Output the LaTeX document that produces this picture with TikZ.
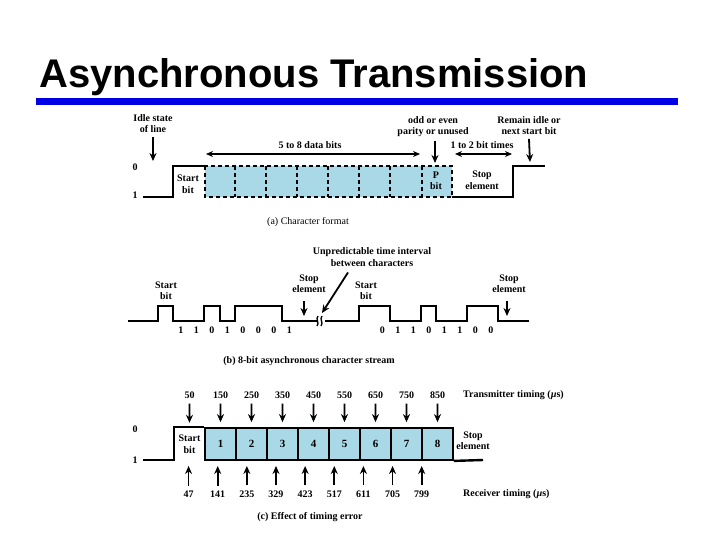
\documentclass[tikz,border=0pt]{standalone}
\usepackage{fontspec}
\setmainfont{Liberation Serif}
\newfontfamily\headfont{Liberation Sans}
\usetikzlibrary{
	arrows.meta,
	calc
}

\definecolor{bitblue}{HTML}{A9D8E6}
\definecolor{barblue}{HTML}{0000E6}

\tikzset{
	lbl/.style={font=\bfseries\fontsize{10}{11.5}\selectfont, align=center, inner sep=0pt},
	capt/.style={font=\fontsize{10}{11.5}\selectfont, align=center, inner sep=0pt},
	sig/.style={line width=2.4pt},
	thinsig/.style={line width=1.8pt},
	dbox/.style={line width=2pt, dash pattern=on 4pt off 3pt},
	bitbox/.style={draw, fill=bitblue, line width=1.8pt, minimum width=31pt, minimum height=32pt, inner sep=0pt, font=\bfseries\fontsize{11}{12}\selectfont},
	pointer/.style={-{Stealth[length=8pt,width=7pt]}, line width=1.8pt},
	span/.style={{Stealth[length=7pt,width=6pt]}-{Stealth[length=7pt,width=6pt]}, line width=1.2pt}
}

\begin{document}
\begin{tikzpicture}[x=1pt, y=-1pt]
	\useasboundingbox (0,0) rectangle (720,540);
	
	% title
	\fill[barblue] (36,98) rectangle (678,105);
	\node[anchor=base west, inner sep=0pt, font=\headfont\bfseries\fontsize{40}{42}\selectfont] (title) at (39,88) {Asynchronous Transmission};
	
	% (a) character format
	\node[lbl] (lvl0a) at (135,167) {0};
	\node[lbl] (lvl1a) at (135,195) {1};
	\fill[bitblue] (205,166) rectangle (452,197);
	\draw[dbox] (205,166) rectangle (452,197);
	\foreach \x in {235,266,297,328,359,390,422}
		\draw[dbox] (\x,166) -- (\x,197);
	\draw[sig] (143,197) -- (173,197) |- (205,166);
	\draw[sig] (452,197) -- (513,197) |- (545,166);
	
	\node[lbl] (starta) at (188,184) {Start\\bit};
	\node[lbl] (pbit) at (436,181) {P\\bit};
	\node[lbl] (stopa) at (482,180) {Stop\\element};
	
	\node[lbl] (idle) at (153,123.5) {Idle state\\of line};
	\coordinate (idlept) at (153,161);
	\draw[pointer] ([yshift=-4pt]idle.south) -- (idlept);
	
	\node[lbl] (databits) at (310,145) {5 to 8 data bits};
	\coordinate (datal) at (206,154);
	\coordinate (datar) at (420,154);
	\draw[span] (datal) -- (datar);
	
	\node[lbl] (parity) at (433,126.5) {odd or even\\parity or unused};
	\coordinate (paritypt) at (435,163);
	\draw[pointer] ([xshift=2pt,yshift=-4pt]parity.south) -- (paritypt);
	
	\node[lbl] (bittimes) at (482,145) {1 to 2 bit times};
	\coordinate (stopl) at (455,154);
	\coordinate (stopr) at (512,154);
	\draw[span] (stopl) -- (stopr);
	
	\node[lbl] (remain) at (529,125.5) {Remain idle or\\next start bit};
	\coordinate (remainpt) at (530,162);
	\draw[pointer] ([yshift=-4pt]remain.south) -- (remainpt);
	
	\node[capt] (capa) at (308,222) {(a) Character format};
	
	% (b) character stream
	\draw[thinsig] (128,321) -- (158,321) |- (173,306) |- (204,321) |- (220,306) |- (235,321) |- (282,306) |- (317,321);
	\draw[thinsig] (325,321) -- (359,321) |- (390,306) |- (421,321) |- (436,306) |- (467,321) |- (498,306) |- (529,321);
	\draw[line width=1.3pt] (318,316) .. controls (315,319) and (320,323) .. (317,326);
	\draw[line width=1.3pt] (322,316) .. controls (319,319) and (324,323) .. (321,326);
	
	\foreach \b [count=\i] in {1,1,0,1,0,0,0,1}
		\node[lbl] (bitA\i) at ({173+15.5*(\i-0.5)},330) {\b};
	\foreach \b [count=\i] in {0,1,1,0,1,1,0,0}
		\node[lbl] (bitB\i) at ({374.5+15.5*(\i-0.5)},330) {\b};
	
	\node[lbl] (startb1) at (166,290.5) {Start\\bit};
	\node[lbl] (startb2) at (366,290.5) {Start\\bit};
	
	\node[lbl] (stopb1) at (309,283.5) {Stop\\element};
	\coordinate (stopb1pt) at (304,316);
	\draw[pointer] ([xshift=-5pt,yshift=-8pt]stopb1.south) -- (stopb1pt);
	\node[lbl] (stopb2) at (509,283.5) {Stop\\element};
	\coordinate (stopb2pt) at (507,316);
	\draw[pointer] ([xshift=-2pt,yshift=-8pt]stopb2.south) -- (stopb2pt);
	
	\node[lbl] (gap) at (372,257) {Unpredictable time interval\\between characters};
	\coordinate (gappt) at (322,313);
	\draw[pointer] ([xshift=-24pt,yshift=-6pt]gap.south) -- (gappt);
	
	\node[lbl] (capb) at (309,361) {(b) 8-bit asynchronous character stream};
	
	% (c) timing error
	\node[lbl] (lvl0c) at (135,429) {0};
	\node[lbl] (lvl1c) at (135,460) {1};
	\node[lbl, minimum width=31pt, minimum height=32pt] (b0) at (189.5,444) {Start\\bit};
	\foreach \i in {1,...,8}
		\node[bitbox] (b\i) at ({205+31*(\i-0.5)},444) {\i};
	\draw[sig] (143,460) -- (174,460) |- (b1.north west);
	\draw[sig] (b8.south east) -- (483,460);
	\node[lbl] (stopc) at (473,440.5) {Stop\\element};
	
	\foreach \t [count=\i from 0] in {50,150,...,850} {
		\node[lbl] (tx\i) at ({174+0.31*\t},395) {\t};
		\draw[pointer] ([yshift=-5pt]tx\i.south) -- ([yshift=5pt]b\i.north);
	}
	\foreach \t [count=\i] in {47,141,235,329,423,517,611,705,799} {
		\node[lbl] (rx\i) at ({174+0.31*\t},494) {\t};
		\coordinate (rxpt\i) at ({174+0.31*\t},466);
		\draw[pointer] ([yshift=5pt]rx\i.north) -- (rxpt\i);
	}
	
	\node[lbl, anchor=west] (txlbl) at (463,395) {Transmitter timing (\textit{µ}s)};
	\node[lbl, anchor=west] (rxlbl) at (463,494) {Receiver timing (\textit{µ}s)};
	
	\node[lbl] (capc) at (310,517) {(c) Effect of timing error};
\end{tikzpicture}
\end{document}
